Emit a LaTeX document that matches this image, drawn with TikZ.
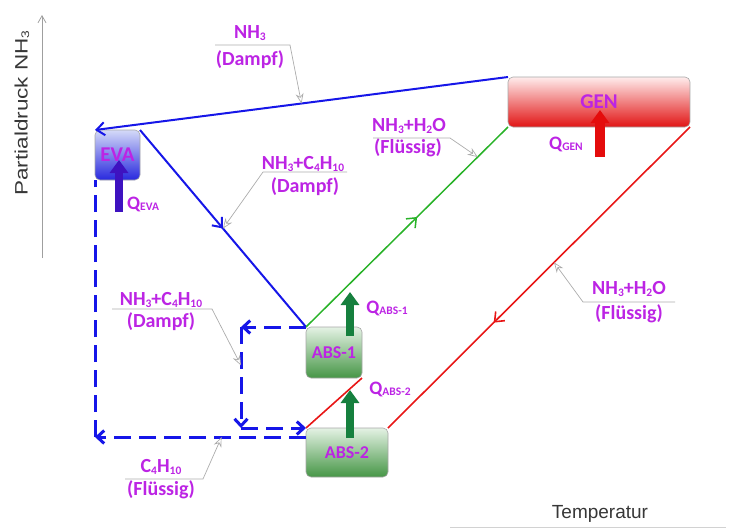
\documentclass[tikz,border=0pt]{standalone}
\usepackage{fontspec}
\setmainfont{Carlito}
\newfontfamily\axfont{Liberation Sans}
\newfontfamily\axfontwide[FakeStretch=1.25]{Liberation Sans}
\usetikzlibrary{arrows.meta,decorations.markings,calc}

\definecolor{labcol}{RGB}{188,36,228}
\definecolor{lblue}{RGB}{22,22,232}
\definecolor{lgreen}{RGB}{40,178,40}
\definecolor{lred}{RGB}{232,22,22}
\definecolor{qindigo}{RGB}{62,18,192}
\definecolor{qgreen}{RGB}{22,128,62}
\definecolor{qred}{RGB}{228,12,12}
\definecolor{axcol}{RGB}{55,55,55}

% small lowered index (NH3, Q_EVA, ...)
\newcommand\lsub[1]{\raisebox{-1.3pt}{\fontsize{11.5}{12}\selectfont #1}}
\newcommand\asub[1]{\raisebox{-1.5pt}{\fontsize{11}{12}\selectfont #1}}

\tikzset{
  lab/.style={text=labcol, inner sep=0pt, font=\bfseries\fontsize{20}{22}\selectfont},
  qlab/.style={text=labcol, inner sep=0pt, font=\bfseries\fontsize{19}{21}\selectfont},
  unitbox/.style={draw=gray!70, line width=0.6pt, rounded corners=5pt, anchor=north west,
    inner sep=0pt, outer sep=0pt, text=labcol, font=\bfseries\fontsize{18}{20}\selectfont},
  bigtext/.style={font=\bfseries\fontsize{21}{23}\selectfont},
  evabox/.style={unitbox, bigtext, top color={rgb,255:red,212;green,218;blue,248}, bottom color={rgb,255:red,40;green,40;blue,222}},
  genbox/.style={unitbox, bigtext, top color={rgb,255:red,255;green,236;blue,236}, middle color={rgb,255:red,240;green,50;blue,50}, bottom color={rgb,255:red,225;green,20;blue,20}},
  absbox/.style={unitbox, top color={rgb,255:red,228;green,242;blue,228}, bottom color={rgb,255:red,70;green,150;blue,70}},
  midarrow/.style={postaction={decorate}, decoration={markings,
      mark=at position #1 with {\arrow{Straight Barb[length=8pt,width=13pt]}}}},
  blueline/.style={draw=lblue, line width=2pt},
  greenline/.style={draw=lgreen, line width=1.5pt},
  redline/.style={draw=lred, line width=1.6pt},
  dashline/.style={draw=lblue, line width=3pt, dash pattern=on 17pt off 8pt},
  qarrow/.style={draw=#1, line width=8pt, -{Triangle[length=13pt,width=18pt]}},
  callout/.style={draw=gray!65, line width=0.7pt, -{Stealth[open,length=10pt,width=8pt]}},
  axisline/.style={draw=gray!75, line width=0.8pt},
}

\begin{document}
\begin{tikzpicture}[x=1pt,y=-1pt]
\useasboundingbox (0,0) rectangle (729,528);

% axes
\draw[axisline, -{Straight Barb[length=7pt,width=8pt]}] (42,258) -- (42,15);
\draw[axisline, draw=gray!35] (450,527.5) -- (726,527.5);
\node[text=axcol, rotate=90, inner sep=0pt, font=\axfontwide\fontsize{18}{20}\selectfont] (ylab) at (22,113) {Partialdruck NH\asub{3}};
\node[text=axcol, inner sep=0pt, font=\axfont\fontsize{19}{21}\selectfont] (xlab) at (600,514) {Temperatur};

% units
\node[evabox, minimum width=45pt, minimum height=50pt] (EVA) at (95,130) {EVA};
\node[genbox, minimum width=182pt, minimum height=50pt] (GEN) at (508,77) {GEN};
\node[absbox, minimum width=56pt, minimum height=51pt] (ABS1) at (306,327) {ABS-1};
\node[absbox, minimum width=82pt, minimum height=49pt] (ABS2) at (306,428) {ABS-2};

% solid streams
\draw[blueline, -{Straight Barb[length=8pt,width=13pt]}] (GEN.north west) -- (EVA.north west);
\draw[blueline, midarrow=0.5] (EVA.north east) -- (ABS1.north west);
\draw[greenline, midarrow=0.55] (ABS1.north west) -- (GEN.south west);
\draw[redline, midarrow=0.65] (GEN.south east) -- (ABS2.north east);
\draw[redline] (ABS2.north west) -- (ABS1.south east);

% dashed butane loop
\coordinate (d1) at (241,327);
\coordinate (d2) at (241,428);
\coordinate (d3) at ($(ABS2.north west)+(0,9)$);
\coordinate (d4) at (95,437);
\draw[dashline, -{Straight Barb[length=7pt,width=13pt]}] (ABS1.north west) -- (d1);
\draw[dashline, -{Straight Barb[length=7pt,width=13pt]}] (d1) -- (d2);
\draw[dashline, -{Straight Barb[length=7pt,width=13pt]}] (d2) -- (ABS2.north west);
\draw[dashline, -{Straight Barb[length=7pt,width=13pt]}] (d3) -- (d4);
\draw[dashline] (d4) -- (EVA.south west);

% heat flows
\coordinate (qe0) at (119,212); \coordinate (qe1) at (119,160);
\coordinate (qg0) at (600,157); \coordinate (qg1) at (600,110);
\coordinate (qa0) at (350,336); \coordinate (qa1) at (350,292);
\coordinate (qb0) at (350,438); \coordinate (qb1) at (350,390);
\draw[qarrow=qindigo] (qe0) -- (qe1);
\draw[qarrow=qred, line width=10pt] (qg0) -- (qg1);
\draw[qarrow=qgreen] (qa0) -- (qa1);
\draw[qarrow=qgreen] (qb0) -- (qb1);
\node[qlab, anchor=west] (QEVA) at (127,204) {Q\lsub{EVA}};
\node[qlab] (QGEN) at (566,144) {Q\lsub{GEN}};
\node[qlab] (QABS1) at (387,308) {Q\lsub{ABS-1}};
\node[qlab] (QABS2) at (390,389) {Q\lsub{ABS-2}};

% stream labels with pointers
\coordinate (t1) at ($(GEN.north west)!0.5!(EVA.north west)$);
\coordinate (t2) at ($(EVA.north east)!0.5!(ABS1.north west)$);
\coordinate (t3) at ($(ABS1.north west)!0.85!(GEN.south west)$);
\coordinate (t4) at ($(GEN.south east)!0.45!(ABS2.north east)$);
\coordinate (t5) at ($(d1)!0.38!(d2)$);
\coordinate (t6) at ($(d3)!0.40!(d4)$);

\node[lab] (L1a) at (250,33) {NH\lsub{3}};
\node[lab] (L1b) at (250,60) {(Dampf)};
\draw[callout] (215,45) -- (290,45) -- (t1);

\node[lab] (L2a) at (303,164) {NH\lsub{3}+C\lsub{4}H\lsub{10}};
\node[lab] (L2b) at (305,187) {(Dampf)};
\draw[callout] (347,172) -- (263,172) -- (t2);

\node[lab] (L3a) at (409,126) {NH\lsub{3}+H\lsub{2}O};
\node[lab] (L3b) at (408,148) {(Flüssig)};
\draw[callout] (373,138) -- (450,138) -- (t3);

\node[lab] (L4a) at (629,289) {NH\lsub{3}+H\lsub{2}O};
\node[lab] (L4b) at (629,314) {(Flüssig)};
\draw[callout] (675,302) -- (583,302) -- (t4);

\node[lab] (L5a) at (161,300) {NH\lsub{3}+C\lsub{4}H\lsub{10}};
\node[lab] (L5b) at (161,322) {(Dampf)};
\draw[callout] (112,309) -- (212,309) -- (t5);

\node[lab] (L6a) at (161,467) {C\lsub{4}H\lsub{10}};
\node[lab] (L6b) at (161,490) {(Flüssig)};
\draw[callout] (125,479) -- (203,479) -- (t6);
\end{tikzpicture}
\end{document}
